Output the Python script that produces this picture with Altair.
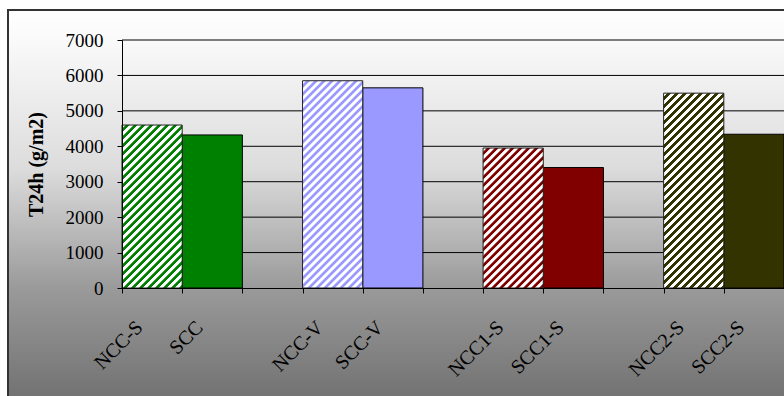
import altair as alt
import pandas as pd

# ---- data ----
categories = ["NCC-S", "SCC", " ", "NCC-V", "SCC-V", "  ", "NCC1-S", "SCC1-S", "   ", "NCC2-S", "SCC2-S"]
bar_names = ["NCC-S", "SCC", "NCC-V", "SCC-V", "NCC1-S", "SCC1-S", "NCC2-S", "SCC2-S"]
bar_values = [4600, 4320, 5850, 5650, 3950, 3400, 5500, 4340]
bar_colors = ["#008000", "#008000", "#9999FF", "#9999FF", "#800000", "#800000", "#333300", "#333300"]
hatched = [True, False, True, False, True, False, True, False]
y_ticks = [0, 1000, 2000, 3000, 4000, 5000, 6000, 7000]

W, H = 662, 248
YMAX = 7000
FONT = "Liberation Serif"

df = pd.DataFrame({"name": bar_names, "value": bar_values, "hatch": hatched})
grid_df = pd.DataFrame({"value": y_ticks[1:]})

band_w = W / len(categories)


def hatch_fill(color, value, period=8.0, k=1.0, ramp=0.8):
    """Diagonal stripe fill built from a linear gradient in bar bbox units."""
    w = band_w
    h = value / YMAX * H
    denom = k * k * w * w + h * h
    smax = k * w + h
    a = period * 0.52
    stops = []
    s = 0.0

    def t(v):
        return max(0.0, min(1.0, v * w / denom))

    while s <= smax + period:
        stops.append({"offset": t(s), "color": "#ffffff"})
        stops.append({"offset": t(s + a - ramp), "color": "#ffffff"})
        stops.append({"offset": t(s + a), "color": color})
        stops.append({"offset": t(s + period - ramp), "color": color})
        s += period
    return {"gradient": "linear", "x1": 0, "y1": 0, "x2": k, "y2": h / w, "stops": stops}


x_enc = alt.X(
    "name:N",
    scale=alt.Scale(domain=categories, paddingInner=0, paddingOuter=0),
    sort=categories,
    axis=alt.Axis(
        title=None, tickBand="extent", tickSize=5, tickColor="black", domainColor="black",
        labelAngle=-45, labelAlign="right", labelBaseline="middle", labelPadding=31,
        labelOffset=-13, labelFont=FONT, labelFontSize=20, labelColor="black",
        labelOverlap=False, zindex=1,
    ),
)
y_axis = alt.Axis(
    values=y_ticks, format="d", grid=False, tickSize=5, tickColor="black", domainColor="black",
    labelFont=FONT, labelFontSize=19, labelColor="black", labelPadding=14,
    title="T24h (g/m2)", titleFont=FONT, titleFontSize=20, titleFontWeight="bold",
    titleColor="black", titlePadding=19, zindex=1,
)
y_enc = alt.Y("value:Q", scale=alt.Scale(domain=[0, YMAX], nice=False), axis=y_axis)

bg_grad = {
    "gradient": "linear", "x1": 0, "y1": 0, "x2": 0, "y2": 1,
    "stops": [
        {"offset": 0.0, "color": "#ffffff"},
        {"offset": 0.08, "color": "#f9f9f9"},
        {"offset": 0.38, "color": "#dcdcdc"},
        {"offset": 0.665, "color": "#9a9a9a"},
        {"offset": 0.923, "color": "#737373"},
        {"offset": 1.0, "color": "#6a6a6a"},
    ],
}

background = alt.Chart(alt.Data(values=[{"a": 1}])).mark_rect(
    fill=bg_grad, stroke="#333333", strokeWidth=2
).encode(
    x=alt.value(-114), x2=alt.value(W + 30), y=alt.value(-30), y2=alt.value(H + 140)
)

grid = alt.Chart(grid_df).mark_rule(color="black", strokeWidth=1).encode(y=y_enc)

solid = alt.Chart(df).transform_filter("!datum.hatch").mark_bar(
    stroke="black", strokeWidth=1
).encode(
    x=x_enc,
    y=y_enc,
    fill=alt.Fill("name:N", scale=alt.Scale(domain=bar_names, range=bar_colors), legend=None),
)

layers = [background, grid, solid]
for n, v, c, hflag in zip(bar_names, bar_values, bar_colors, hatched):
    if not hflag:
        continue
    layers.append(
        alt.Chart(df).transform_filter(alt.datum.name == n).mark_bar(
            fill=hatch_fill(c, v), stroke="#222222", strokeWidth=1
        ).encode(x=x_enc, y=y_enc)
    )

chart = alt.layer(*layers).properties(
    width=W, height=H,
    autosize=alt.AutoSizeParams(type="none"),
    padding={"left": 122, "top": 40, "right": 0, "bottom": 108},
    background="white",
).configure_view(stroke=None)

chart.save("out.html", embed_options={"renderer": "svg", "actions": False})
